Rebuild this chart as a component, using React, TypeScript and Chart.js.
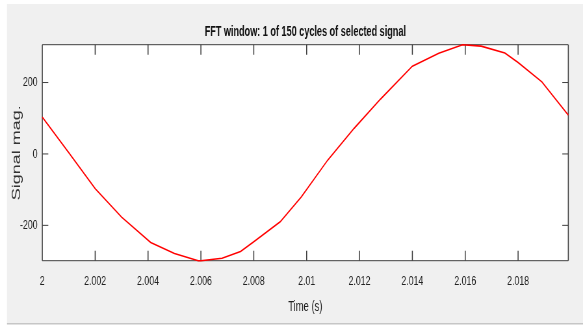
import { useEffect, useRef } from 'react';
import { Chart, registerables } from 'chart.js';

Chart.register(...registerables);

// ---- data ----
const TIME = [
  2.0, 2.001, 2.002, 2.003, 2.0041, 2.005, 2.0059, 2.006, 2.0068, 2.0075, 2.008,
  2.009, 2.0098, 2.0108, 2.0118, 2.0128, 2.014, 2.015, 2.0159, 2.0166, 2.0175,
  2.018, 2.0189, 2.0199,
];
const SIGNAL = [
  103, 4, -97, -177, -248, -279, -299, -299, -292, -273, -246,
  -190, -120, -17, 72, 154, 246, 282, 306, 302, 283,
  256, 202, 109,
];
const X_TICKS = [2, 2.002, 2.004, 2.006, 2.008, 2.01, 2.012, 2.014, 2.016, 2.018];
const Y_TICKS = [-200, 0, 200];
const X_RANGE = [2, 2.0199];
const Y_RANGE = [-299, 306];

const TITLE = 'FFT window: 1 of 150 cycles of selected signal';
const X_LABEL = 'Time (s)';
const Y_LABEL = 'Signal mag.';

// ---- layout ----
const VIEW_W = 583;
const VIEW_H = 327;
const CANVAS_W = 897;
const SX = VIEW_W / CANVAS_W;
const px = (x: number) => x / SX;

const PLOT_LEFT = px(42.3);
const PLOT_RIGHT = px(568.3);
const PLOT_BOTTOM = 260.7;

const FONT_FAMILY = '"Liberation Sans", Arial, Helvetica, sans-serif';
const BOX_COLOR = '#3f3f3f';
const TEXT_COLOR = '#222222';

const framePlugin = {
  id: 'matlabFrame',
  beforeDraw(chart: any) {
    const { ctx } = chart;
    ctx.save();
    ctx.fillStyle = '#ffffff';
    ctx.fillRect(0, 0, CANVAS_W, VIEW_H);
    ctx.fillStyle = '#f0f0f0';
    ctx.fillRect(px(7), 4, CANVAS_W, 319);
    ctx.fillStyle = '#c6c6c6';
    ctx.fillRect(px(7), 323, CANVAS_W, 1.5);
    const a = chart.chartArea;
    ctx.fillStyle = '#ffffff';
    ctx.fillRect(a.left, a.top, a.right - a.left, a.bottom - a.top);
    ctx.restore();
  },
  beforeDatasetsDraw(chart: any) {
    const { ctx } = chart;
    const a = chart.chartArea;
    const xs = chart.scales.x;
    const ys = chart.scales.y;
    ctx.save();
    ctx.strokeStyle = BOX_COLOR;
    ctx.lineWidth = 1;
    ctx.beginPath();
    ctx.moveTo(a.left, a.top);
    ctx.lineTo(a.right, a.top);
    ctx.moveTo(a.left, a.bottom);
    ctx.lineTo(a.right, a.bottom);
    ys.ticks.forEach((t: any) => {
      const y = ys.getPixelForValue(t.value);
      ctx.moveTo(a.left, y);
      ctx.lineTo(a.left + px(6), y);
      ctx.moveTo(a.right, y);
      ctx.lineTo(a.right - px(6), y);
    });
    ctx.stroke();
    ctx.lineWidth = px(1);
    ctx.beginPath();
    ctx.moveTo(a.left, a.top);
    ctx.lineTo(a.left, a.bottom);
    ctx.moveTo(a.right, a.top);
    ctx.lineTo(a.right, a.bottom);
    xs.ticks.forEach((t: any) => {
      const x = xs.getPixelForValue(t.value);
      ctx.moveTo(x, a.bottom);
      ctx.lineTo(x, a.bottom - 10);
      ctx.moveTo(x, a.top);
      ctx.lineTo(x, a.top + 10);
    });
    ctx.stroke();
    ctx.restore();
  },
};

export default function App() {
  const canvasRef = useRef<HTMLCanvasElement | null>(null);

  useEffect(() => {
    const canvas = canvasRef.current;
    if (!canvas) return;
    const chart = new Chart(canvas, {
      type: 'line',
      data: {
        datasets: [
          {
            data: TIME.map((t, i) => ({ x: t, y: SIGNAL[i] })),
            borderColor: '#ff0000',
            borderWidth: 1.6,
            pointRadius: 0,
            tension: 0,
            clip: false as any,
          },
        ],
      },
      options: {
        animation: false,
        responsive: false,
        devicePixelRatio: 1,
        layout: { padding: { left: 0, right: CANVAS_W - PLOT_RIGHT, top: 0, bottom: 0 } },
        plugins: {
          legend: { display: false },
          tooltip: { enabled: false },
          title: {
            display: true,
            text: TITLE,
            fullSize: false,
            color: '#111111',
            font: { family: FONT_FAMILY, size: 14, weight: 'bold', lineHeight: 1.2 },
            padding: { top: 23.6, bottom: 4.3 },
          },
        },
        scales: {
          x: {
            type: 'linear',
            min: X_RANGE[0],
            max: X_RANGE[1],
            afterBuildTicks: (s: any) => {
              s.ticks = X_TICKS.map((v) => ({ value: v }));
            },
            afterFit: (s: any) => {
              s.height = VIEW_H - PLOT_BOTTOM;
            },
            grid: { display: false, drawTicks: false },
            border: { display: false },
            ticks: {
              autoSkip: false,
              maxRotation: 0,
              padding: 12.7,
              color: TEXT_COLOR,
              font: { family: FONT_FAMILY, size: 13.5, lineHeight: 1.2 },
              callback: (v: any) => String(v),
            },
            title: {
              display: true,
              text: X_LABEL,
              color: TEXT_COLOR,
              font: { family: FONT_FAMILY, size: 14.5, lineHeight: 1.2 },
              padding: { top: 0, bottom: 11.3 },
            },
          },
          y: {
            type: 'linear',
            min: Y_RANGE[0],
            max: Y_RANGE[1],
            afterBuildTicks: (s: any) => {
              s.ticks = Y_TICKS.map((v) => ({ value: v }));
            },
            afterFit: (s: any) => {
              s.width = PLOT_LEFT;
            },
            grid: { display: false, drawTicks: false },
            border: { display: false },
            ticks: {
              autoSkip: false,
              padding: 7.4,
              color: TEXT_COLOR,
              font: { family: FONT_FAMILY, size: 13.5, lineHeight: 1.2 },
              callback: (v: any) => String(v),
            },
            title: {
              display: true,
              text: Y_LABEL,
              color: '#333333',
              font: { family: FONT_FAMILY, size: 18, lineHeight: 1.2 },
              padding: { top: 15, bottom: 0 },
            },
          },
        },
      } as any,
      plugins: [framePlugin],
    });
    return () => chart.destroy();
  }, []);

  return (
    <div style={{ width: VIEW_W, height: VIEW_H, overflow: 'hidden', position: 'relative', background: '#fff' }}>
      <style>{'body{margin:0;}'}</style>
      <div style={{ width: CANVAS_W, height: VIEW_H, transform: `scaleX(${SX})`, transformOrigin: '0 0' }}>
        <canvas ref={canvasRef} width={CANVAS_W} height={VIEW_H} style={{ display: 'block' }} />
      </div>
    </div>
  );
}
